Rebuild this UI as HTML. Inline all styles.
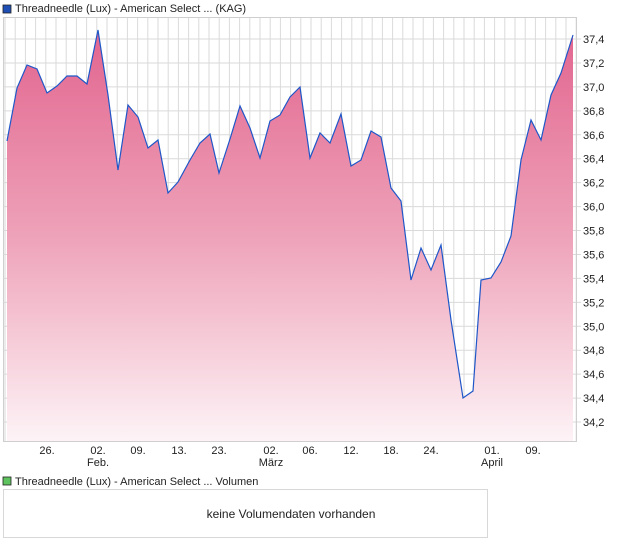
<!DOCTYPE html>
<html><head><meta charset="utf-8"><style>
body{margin:0;background:#fff;width:620px;height:546px;overflow:hidden}
svg{display:block;font-family:"Liberation Sans",sans-serif}
</style></head><body>
<svg width="620" height="546" viewBox="0 0 620 546">
<defs>
<linearGradient id="g" x1="0" y1="30" x2="0" y2="441" gradientUnits="userSpaceOnUse">
<stop offset="0" stop-color="#e2658f"/>
<stop offset="0.5" stop-color="#eea2b9"/>
<stop offset="1" stop-color="#fdf3f6"/>
</linearGradient>
</defs>
<rect x="3" y="5" width="8" height="8" fill="#1f4fb4" stroke="#222" stroke-width="0.8"/>
<text x="15" y="12" font-size="11" fill="#222">Threadneedle (Lux) - American Select ... (KAG)</text>
<g id="grid" stroke="#dadada" stroke-width="1"></g>
<path id="area" fill="url(#g)"/>
<polyline id="line" fill="none" stroke="#1f57c8" stroke-width="1.2"/>
<rect x="3.5" y="17.5" width="573" height="424" fill="none" stroke="#cfcfcf"/>
<g id="yl" font-size="11" fill="#222"></g>
<g font-size="11" fill="#222" text-anchor="middle">
<text x="47" y="454">26.</text>
<text x="98" y="454">02.</text><text x="98" y="466">Feb.</text>
<text x="138" y="454">09.</text>
<text x="179" y="454">13.</text>
<text x="219" y="454">23.</text>
<text x="271" y="454">02.</text><text x="271" y="466">März</text>
<text x="310" y="454">06.</text>
<text x="351" y="454">12.</text>
<text x="391" y="454">18.</text>
<text x="431" y="454">24.</text>
<text x="492" y="454">01.</text><text x="492" y="466">April</text>
<text x="533" y="454">09.</text>
</g>
<rect x="3" y="477" width="8" height="8" fill="#5ec35e" stroke="#222" stroke-width="0.8"/>
<text x="15" y="485" font-size="11" fill="#222">Threadneedle (Lux) - American Select ... Volumen</text>
<rect x="3.5" y="489.5" width="484" height="48" fill="#fff" stroke="#d8d8d8"/>
<text x="291" y="518" font-size="12" fill="#222" text-anchor="middle">keine Volumendaten vorhanden</text>
</svg>
<script>
var pts=[[7,141],[17,88],[27,65],[37,69],[47,93],[57,86],[67,76],[77,76],[87,84],[98,30],[108,95],[118,170],[128,105],[138,117],[148,148],[158,140],[168,193],[178,182],[190,160],[200,143],[210,134],[219,173],[230,139],[240,106],[250,128],[260,158],[270,121],[280,115],[290,97],[300,87],[310,158],[320,133],[330,143],[341,114],[351,166],[361,160],[371,131],[381,137],[391,188],[401,201],[411,280],[421,248],[431,270],[441,245],[451,320],[463,398],[473,391],[481,280],[491,278],[501,262],[511,236],[521,160],[531,120],[541,140],[551,95],[561,73],[573,35]];
var ns="http://www.w3.org/2000/svg";
var g=document.getElementById('grid'),yl=document.getElementById('yl');
for(var x=5;x<577;x+=10.2){var l=document.createElementNS(ns,'line');l.setAttribute('x1',x);l.setAttribute('x2',x);l.setAttribute('y1',17);l.setAttribute('y2',441);g.appendChild(l);}
for(var k=0;k<17;k++){var y=39+k*23.94;var l=document.createElementNS(ns,'line');l.setAttribute('x1',3);l.setAttribute('x2',581);l.setAttribute('y1',y);l.setAttribute('y2',y);g.appendChild(l);
var t=document.createElementNS(ns,'text');t.setAttribute('x',583);t.setAttribute('y',y+4);t.textContent=(37.4-k*0.2).toFixed(1).replace('.',',');yl.appendChild(t);}
var s=pts.map(function(p){return p.join(',')}).join(' ');
document.getElementById('line').setAttribute('points',s);
document.getElementById('area').setAttribute('d','M7,441 L'+s.replace(/ /g,' L')+' L573,441 Z');
</script>
</body></html>
